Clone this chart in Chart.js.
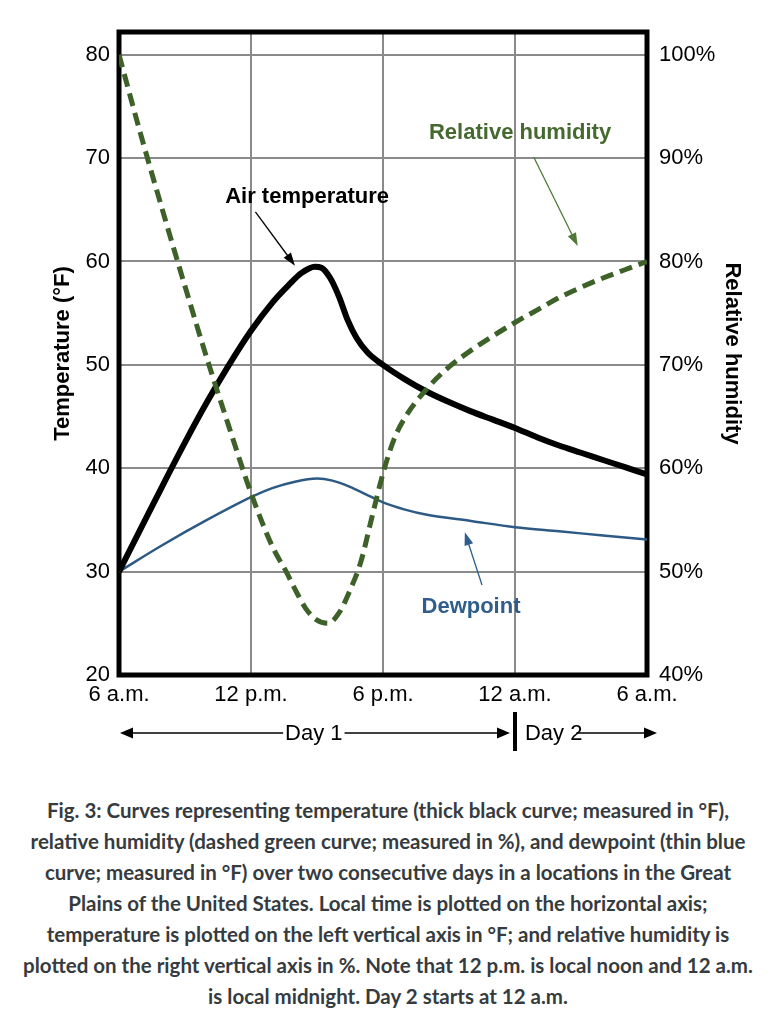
<!DOCTYPE html>
<html><head><meta charset="utf-8">
<script src="https://cdn.jsdelivr.net/npm/chart.js@4.4.1/dist/chart.umd.min.js"></script>
<style>
html,body{margin:0;padding:0;background:#fff;}
#wrap{position:absolute;left:0;top:0;width:776px;height:770px;}
#cap{position:absolute;left:0;top:795px;width:776px;text-align:center;font-family:Lato,"Open Sans",sans-serif;font-weight:700;font-size:20.5px;line-height:31px;color:#363b40;white-space:nowrap;}
</style></head><body>
<div id="wrap"><canvas id="c"></canvas></div>
<div id="cap">Fig. 3: Curves representing temperature (thick black curve; measured in °F),<br>relative humidity (dashed green curve; measured in %), and dewpoint (thin blue<br>curve; measured in °F) over two consecutive days in a locations in the Great<br>Plains of the United States. Local time is plotted on the horizontal axis;<br>temperature is plotted on the left vertical axis in °F; and relative humidity is<br>plotted on the right vertical axis in %. Note that 12 p.m. is local noon and 12 a.m.<br>is local midnight. Day 2 starts at 12 a.m.</div>
<script>
// ---- data (hours after 6 a.m. of Day 1) ----
const xTickLabels = ['6 a.m.', '12 p.m.', '6 p.m.', '12 a.m.', '6 a.m.'];
const tempTicks = [20, 30, 40, 50, 60, 70, 80];
const rhTicks = [40, 50, 60, 70, 80, 90, 100];

const tempHours  = [0, 1, 2, 3, 4, 5, 6, 7, 7.7, 8.3, 8.9, 9.2, 9.6, 10.0, 10.4, 10.8, 11.3, 12, 13, 14, 15, 16, 17, 18, 19, 20, 21, 22, 23, 24];
const tempValues = [30, 34.2, 38.4, 42.5, 46.4, 50.0, 53.3, 56.1, 57.7, 58.9, 59.5, 59.4, 58.4, 56.6, 54.3, 52.6, 51.2, 50.0, 48.6, 47.4, 46.4, 45.5, 44.7, 43.9, 43.0, 42.2, 41.5, 40.8, 40.1, 39.4];

const rhHours  = [0, 1, 2, 3, 4, 5, 6, 7, 7.6, 8, 8.5, 9, 9.5, 10, 10.5, 11, 11.5, 12, 12.5, 13, 14, 15, 16, 17, 18, 19, 20, 21, 22, 23, 24];
const rhValues = [100, 92.2, 84.8, 77.6, 70.6, 64, 57.6, 52.3, 50, 48.3, 46.4, 45.3, 45, 46, 48.2, 51, 55.3, 59.5, 62.8, 64.9, 67.7, 69.8, 71.4, 72.8, 74.1, 75.3, 76.5, 77.5, 78.4, 79.2, 80];

const dewHours  = [0, 2, 4, 6, 7, 8, 9, 9.7, 10.5, 11.2, 12, 13, 14, 16, 18, 20, 22, 24];
const dewValues = [30, 32.6, 35, 37.2, 38.1, 38.7, 39, 38.8, 38.2, 37.5, 36.7, 36.0, 35.5, 34.9, 34.3, 33.9, 33.5, 33.1];

const seriesNames = ['Air temperature', 'Relative humidity', 'Dewpoint'];

// ---- helpers ----
const pts = (xs, ys) => xs.map((x, i) => ({x: x, y: ys[i]}));

function arrow(ctx, x1, y1, x2, y2, color, lw, hl, hw) {
  const a = Math.atan2(y2 - y1, x2 - x1);
  ctx.save();
  ctx.strokeStyle = color; ctx.fillStyle = color; ctx.lineWidth = lw;
  ctx.beginPath();
  ctx.moveTo(x1, y1);
  ctx.lineTo(x2 - Math.cos(a) * hl * 0.8, y2 - Math.sin(a) * hl * 0.8);
  ctx.stroke();
  ctx.beginPath();
  ctx.moveTo(x2, y2);
  ctx.lineTo(x2 - Math.cos(a) * hl + Math.sin(a) * hw / 2, y2 - Math.sin(a) * hl - Math.cos(a) * hw / 2);
  ctx.lineTo(x2 - Math.cos(a) * hl - Math.sin(a) * hw / 2, y2 - Math.sin(a) * hl + Math.cos(a) * hw / 2);
  ctx.closePath();
  ctx.fill();
  ctx.restore();
}

const framePlugin = {
  id: 'frame',
  beforeDatasetsDraw(chart) {
    const {ctx, chartArea: a} = chart;
    ctx.save();
    ctx.strokeStyle = '#000';
    ctx.lineWidth = 5;
    ctx.strokeRect(a.left, a.top, a.right - a.left, a.bottom - a.top);
    ctx.restore();
  }
};

const annotPlugin = {
  id: 'annot',
  afterDatasetsDraw(chart) {
    const {ctx, chartArea: a} = chart;
    const xs = chart.scales.x, ys = chart.scales.y;
    const X = v => xs.getPixelForValue(v), Y = v => ys.getPixelForValue(v);
    ctx.save();
    ctx.font = 'bold 22px "Liberation Sans", Arial, sans-serif';
    ctx.textAlign = 'center';
    ctx.textBaseline = 'middle';
    // Air temperature
    ctx.fillStyle = '#000';
    ctx.fillText(seriesNames[0], X(8.55), Y(66.2));
    arrow(ctx, X(6.2), Y(64.8), X(8.0), Y(59.6), '#000', 1.3, 13, 9);
    // Relative humidity
    ctx.fillStyle = '#46692f';
    ctx.fillText(seriesNames[1], X(18.23), Y(72.4));
    arrow(ctx, X(18.85), Y(70.1), X(20.85), Y(61.5), '#4f7a36', 1.3, 13, 9);
    // Dewpoint
    ctx.fillStyle = '#2f5e8c';
    ctx.fillText(seriesNames[2], X(16.0), Y(26.6));
    arrow(ctx, X(16.5), Y(28.7), X(15.72), Y(33.8), '#2f5e8c', 1.3, 13, 9);

    // Day row below the axis
    const yRow = a.bottom + 58;
    ctx.font = '22px "Liberation Sans", Arial, sans-serif';
    ctx.fillStyle = '#000';
    ctx.textAlign = 'left';
    const d1x = X(7.55);
    const d1w = ctx.measureText('Day 1').width;
    ctx.fillText('Day 1', d1x, yRow + 1);
    arrow(ctx, d1x - 2, yRow, X(0) + 1, yRow, '#000', 1.5, 13, 11);
    arrow(ctx, d1x + d1w + 2, yRow, X(18) - 5, yRow, '#000', 1.5, 13, 11);
    ctx.fillRect(X(18) - 2, yRow - 21, 4, 39);
    const d2x = X(18.45);
    const d2w = ctx.measureText('Day 2').width;
    ctx.fillText('Day 2', d2x, yRow + 1);
    arrow(ctx, d2x + d2w - 6, yRow, X(24) + 10, yRow, '#000', 1.5, 13, 11);
    ctx.restore();
  }
};

new Chart(document.getElementById('c'), {
  type: 'line',
  data: {
    datasets: [
      {label: seriesNames[0], data: pts(tempHours, tempValues), yAxisID: 'y', borderColor: '#000', borderWidth: 6, pointRadius: 0, cubicInterpolationMode: 'monotone', fill: false, order: 2},
      {label: seriesNames[1], data: pts(rhHours, rhValues), yAxisID: 'y2', borderColor: '#3d6128', borderWidth: 5, borderDash: [13, 7], pointRadius: 0, cubicInterpolationMode: 'monotone', fill: false, order: 1},
      {label: seriesNames[2], data: pts(dewHours, dewValues), yAxisID: 'y', borderColor: '#2c5a85', borderWidth: 2.5, pointRadius: 0, cubicInterpolationMode: 'monotone', fill: false, order: 3}
    ]
  },
  options: {
    responsive: true,
    maintainAspectRatio: false,
    animation: false,
    layout: {padding: {top: 32, left: 0, right: 0, bottom: 0}},
    plugins: {legend: {display: false}, tooltip: {enabled: false}},
    scales: {
      x: {
        type: 'linear', min: 0, max: 24,
        afterBuildTicks: s => { s.ticks = xTickLabels.map((_, i) => ({value: i * 6})); },
        ticks: {callback: v => xTickLabels[Math.round(v / 6)], font: {family: '"Liberation Sans", Arial', size: 22}, color: '#000', padding: 7, maxRotation: 0, autoSkip: false},
        grid: {color: '#8a8a8a', lineWidth: 2, drawTicks: false},
        border: {display: false},
        afterFit: s => { s.height = 95; }
      },
      y: {
        type: 'linear', position: 'left', min: 20, max: 82.2,
        afterBuildTicks: s => { s.ticks = tempTicks.map(v => ({value: v})); },
        ticks: {font: {family: '"Liberation Sans", Arial', size: 22}, color: '#000', padding: 9},
        grid: {color: '#8a8a8a', lineWidth: 2, drawTicks: false},
        border: {display: false},
        title: {display: true, text: 'Temperature (°F)', font: {family: '"Liberation Sans", Arial', size: 22, weight: 'bold'}, color: '#000', padding: {top: 50, bottom: 0}},
        afterFit: s => { s.width = 119; }
      },
      y2: {
        type: 'linear', position: 'right', min: 40, max: 102.2,
        afterBuildTicks: s => { s.ticks = rhTicks.map(v => ({value: v})); },
        ticks: {callback: v => v + '%', font: {family: '"Liberation Sans", Arial', size: 22}, color: '#000', padding: 12},
        grid: {display: false, drawTicks: false},
        border: {display: false},
        title: {display: true, text: 'Relative humidity', font: {family: '"Liberation Sans", Arial', size: 22, weight: 'bold'}, color: '#000', padding: {top: 31, bottom: 0}},
        afterFit: s => { s.width = 129; }
      }
    }
  },
  plugins: [framePlugin, annotPlugin]
});
</script>
</body></html>
